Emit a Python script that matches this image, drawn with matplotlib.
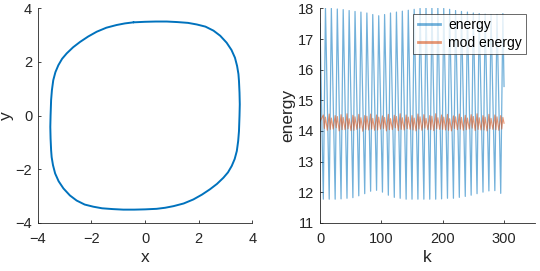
import numpy as np
import matplotlib
matplotlib.use("Agg")
import matplotlib.pyplot as plt

plt.rcParams["font.family"] = ["Liberation Sans", "DejaVu Sans"]

# phase portrait (x, y), clockwise from the top
orbit_x = [-0.43, 0.00, 0.40, 0.81, 1.20, 1.60, 1.93, 2.25, 2.55, 2.80, 3.04, 3.22,
           3.35, 3.43, 3.48, 3.50, 3.52, 3.53, 3.52, 3.50, 3.47, 3.42, 3.34, 3.23,
           3.09, 2.92, 2.68, 2.42, 2.12, 1.80, 1.44, 1.06, 0.75, 0.43, 0.00, -0.40,
           -0.81, -1.20, -1.60, -1.93, -2.25, -2.55, -2.80, -3.04, -3.22, -3.35, -3.43,
           -3.48, -3.50, -3.52, -3.53, -3.52, -3.50, -3.47, -3.42, -3.34, -3.23, -3.09,
           -2.92, -2.68, -2.42, -2.12, -1.80, -1.44, -1.06, -0.75, -0.43]
orbit_y = [3.48, 3.50, 3.51, 3.51, 3.49, 3.46, 3.40, 3.32, 3.17, 2.98, 2.72, 2.45,
           2.16, 1.85, 1.55, 1.29, 0.85, 0.42, 0.00, -0.58, -0.95, -1.32, -1.62, -1.88,
           -2.12, -2.32, -2.55, -2.75, -2.95, -3.13, -3.28, -3.38, -3.44, -3.48, -3.50, -3.51,
           -3.51, -3.49, -3.46, -3.40, -3.32, -3.17, -2.98, -2.72, -2.45, -2.16, -1.85,
           -1.55, -1.29, -0.85, -0.42, 0.00, 0.58, 0.95, 1.32, 1.62, 1.88, 2.12,
           2.32, 2.55, 2.75, 2.95, 3.13, 3.28, 3.38, 3.44, 3.48]

# energy: troughs / peaks of the zigzag
trough_k = [5.4, 15.0, 24.7, 34.3, 44.0, 53.6, 63.2, 72.9, 82.5, 92.2, 101.8, 111.4,
            121.1, 130.7, 140.4, 150.0, 159.6, 169.3, 178.9, 188.6, 198.2, 207.8,
            217.5, 227.1, 236.8, 246.4, 256.0, 265.7, 275.3, 285.0, 294.6]
trough_e = [11.77, 11.77, 11.77, 11.78, 11.80, 11.82, 11.88, 11.95, 12.03, 12.06, 12.00,
            11.90, 11.83, 11.80, 11.77, 11.77, 11.77, 11.77, 11.77, 11.77, 11.78, 11.80,
            11.80, 11.83, 11.86, 11.90, 11.95, 12.00, 12.04, 12.05, 11.96]
peak_k = [8.9, 18.5, 28.2, 37.8, 47.5, 57.1, 66.7, 76.4, 86.0, 95.7, 105.3, 114.9,
          124.6, 134.2, 143.9, 153.5, 163.1, 172.8, 182.4, 192.1, 201.7, 211.3,
          221.0, 230.6, 240.3, 249.9, 259.5, 269.2, 278.8, 288.5, 298.1]
peak_e = [18.02, 18.00, 17.98, 17.96, 17.93, 17.90, 17.88, 17.85, 17.80, 17.76, 17.80,
          17.85, 17.88, 17.91, 17.94, 17.97, 18.00, 18.03, 18.03, 18.02, 18.00, 17.97,
          17.93, 17.90, 17.88, 17.85, 17.83, 17.81, 17.80, 17.80, 17.83]
energy_start = (0.0, 17.5)
energy_end = (300.0, 15.45)

# modified energy: two wiggles per energy period
low_a_k = [7.1, 16.7, 26.4, 36.0, 45.7, 55.3, 64.9, 74.6, 84.2, 93.9, 103.5, 113.1,
           122.8, 132.4, 142.1, 151.7, 161.3, 171.0, 180.6, 190.3, 199.9, 209.5,
           219.2, 228.8, 238.5, 248.1, 257.7, 267.4, 277.0, 286.7, 296.3]
low_b_k = [11.9, 21.5, 31.2, 40.8, 50.5, 60.1, 69.7, 79.4, 89.0, 98.7, 108.3, 117.9,
           127.6, 137.2, 146.9, 156.5, 166.1, 175.8, 185.4, 195.1, 204.7, 214.3,
           224.0, 233.6, 243.3, 252.9, 262.5, 272.2, 281.8, 291.5]
mod_at_trough = [14.52, 14.55, 14.50, 14.53, 14.56, 14.51, 14.54, 14.50, 14.55, 14.52,
                 14.49, 14.54, 14.51, 14.56, 14.52, 14.50, 14.55, 14.53, 14.50, 14.56,
                 14.52, 14.54, 14.49, 14.55, 14.51, 14.53, 14.56, 14.50, 14.54, 14.52, 14.50]
mod_at_peak = [14.45, 14.42, 14.47, 14.44, 14.40, 14.46, 14.43, 14.48, 14.41, 14.45,
               14.44, 14.40, 14.47, 14.43, 14.45, 14.42, 14.46, 14.41, 14.48, 14.43,
               14.45, 14.40, 14.46, 14.44, 14.42, 14.47, 14.43, 14.45, 14.41, 14.46, 14.44]
mod_low_a = [14.08, 14.05, 14.10, 14.04, 14.07, 14.02, 14.09, 14.05, 14.06, 14.03,
             14.08, 14.04, 14.10, 14.05, 14.07, 14.03, 14.06, 14.09, 14.04, 14.07,
             14.05, 14.02, 14.08, 14.06, 14.04, 14.09, 14.05, 14.03, 14.07, 14.04, 14.06]
mod_low_b = [14.02, 14.06, 14.00, 14.04, 14.01, 14.05, 13.99, 14.03, 14.02, 14.06,
             14.00, 14.04, 14.01, 14.03, 14.05, 14.00, 14.02, 14.04, 14.01, 14.05,
             14.03, 14.00, 14.04, 14.02, 14.06, 14.01, 14.03, 14.00, 14.05, 14.02]
mod_start = (0.0, 14.3)
mod_end = (300.0, 14.25)

BLUE = "#0072BD"
ORANGE = "#D95319"
AXC = "#262626"

# assemble polylines sorted by k
ek = [energy_start[0]] + trough_k + peak_k + [energy_end[0]]
ev = [energy_start[1]] + trough_e + peak_e + [energy_end[1]]
order = np.argsort(ek)
ek, ev = np.array(ek)[order], np.array(ev)[order]

mk = [mod_start[0]] + trough_k + peak_k + low_a_k + low_b_k + [mod_end[0]]
mv = [mod_start[1]] + mod_at_trough + mod_at_peak + mod_low_a + mod_low_b + [mod_end[1]]
order = np.argsort(mk)
mk, mv = np.array(mk)[order], np.array(mv)[order]

fig = plt.figure(figsize=(5.4, 2.71), dpi=100)
ax1 = fig.add_axes([0.0698, 0.178, 0.3976, 0.791])
ax2 = fig.add_axes([0.5926, 0.178, 0.3976, 0.791])


def style(ax):
    for s in ("top", "right"):
        ax.spines[s].set_visible(False)
    for s in ("left", "bottom"):
        ax.spines[s].set_color(AXC)
        ax.spines[s].set_linewidth(0.6)
    ax.tick_params(direction="in", length=2.5, width=0.6, colors=AXC,
                   labelsize=10.5)
    ax.tick_params(axis="x", pad=6.5)
    ax.tick_params(axis="y", pad=4)


ax1.plot(orbit_x, orbit_y, color=BLUE, lw=1.4,
         solid_capstyle="round", solid_joinstyle="round")
ax1.set_xlim(-4, 4)
ax1.set_ylim(-4, 4)
ax1.set_xticks([-4, -2, 0, 2, 4])
ax1.set_yticks([-4, -2, 0, 2, 4])
ax1.set_xlabel("x", fontsize=12.5, color=AXC, labelpad=3)
ax1.set_ylabel("y", fontsize=12.5, color=AXC, labelpad=1)
style(ax1)

ax2.plot(ek, ev, color=BLUE, lw=0.9, alpha=0.55, label="energy")
ax2.plot(mk, mv, color=ORANGE, lw=0.8, alpha=0.6, label="mod energy")
ax2.set_xlim(0, 350)
ax2.set_ylim(11, 18)
ax2.set_xticks([0, 100, 200, 300])
ax2.set_yticks(range(11, 19))
ax2.set_xlabel("k", fontsize=12.5, color=AXC, labelpad=3)
ax2.set_ylabel("energy", fontsize=12.5, color=AXC, labelpad=2)
style(ax2)
leg = ax2.legend(loc="upper right", bbox_to_anchor=(0.96, 0.975), fontsize=10,
                 frameon=True, fancybox=False, handlelength=1.6, borderpad=0.3,
                 labelspacing=0.3, handletextpad=0.6, borderaxespad=0.0)
leg.get_frame().set_edgecolor(AXC)
leg.get_frame().set_linewidth(0.6)
for h in leg.legend_handles:
    h.set_linewidth(2.0)

fig.savefig("out.png", dpi=100, facecolor="white")
